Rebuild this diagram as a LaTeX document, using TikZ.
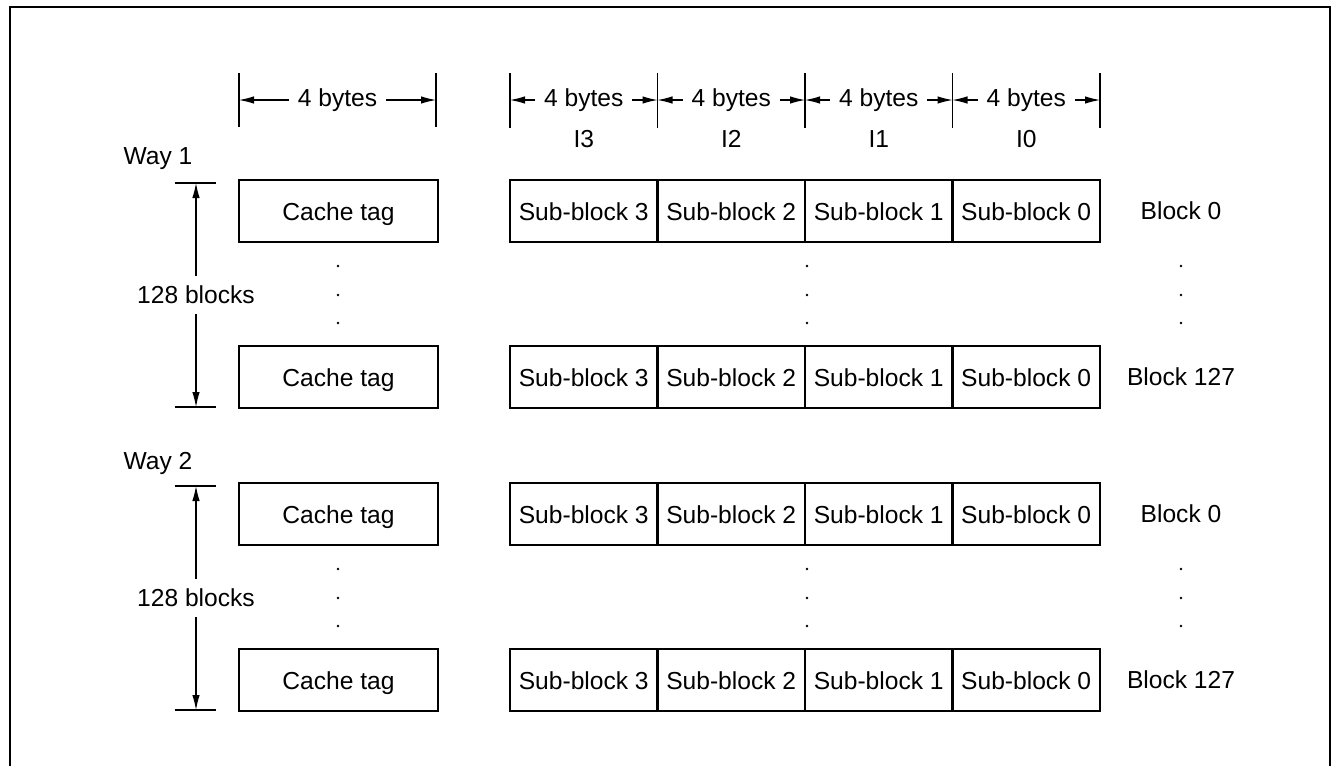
\documentclass[tikz,border=0pt]{standalone}
\usepackage{fontspec}
\setmainfont{Liberation Sans}
\usepackage{tikz}
\usetikzlibrary{arrows.meta, positioning}
\tikzstyle{tagbox} = [rectangle, minimum width=3.98cm, minimum height=1.24cm, inner sep=0pt, outer sep=0pt, text height=0.36cm, text depth=0cm, text centered, draw=black, line width=1.4pt]
\tikzstyle{subbox} = [rectangle, minimum width=2.95cm, minimum height=1.24cm, inner sep=0pt, outer sep=0pt, text height=0.36cm, text depth=0cm, text centered, draw=black, line width=1.4pt]
\tikzstyle{dimtext} = [inner xsep=0.17cm, inner ysep=0pt]
\tikzstyle{arrow} = [line width=0.6pt, -{Latex[length=3mm, width=1.5mm]}]
\tikzstyle{tick} = [line width=0.6pt]

\begin{document}
\begin{tikzpicture}[x=0.02cm, y=-0.02cm, font=\fontsize{14}{16}\selectfont]
        \useasboundingbox (0,0) rectangle (1338,765);
        \draw [line width=1.4pt] (10,775) -- (10,7) -- (1330,7) -- (1330,775);

        % byte widths
        \node (bytag) [dimtext] at (337.5,100) {4 bytes};
        \coordinate (bytagL) at (239,100);
        \coordinate (bytagR) at (436,100);
        \draw [tick] (239,73) -- (239,127);
        \draw [tick] (436,73) -- (436,127);
        \draw [arrow] (bytag.west) -- (bytagL);
        \draw [arrow] (bytag.east) -- (bytagR);

        \node (by3) [dimtext] at (583.75,100) {4 bytes};
        \node (by2) [dimtext] at (731.25,100) {4 bytes};
        \node (by1) [dimtext] at (878.75,100) {4 bytes};
        \node (by0) [dimtext] at (1026.25,100) {4 bytes};
        \coordinate (byA) at (510,100);
        \coordinate (byB) at (657.5,100);
        \coordinate (byC) at (805,100);
        \coordinate (byD) at (952.5,100);
        \coordinate (byE) at (1100,100);
        \draw [tick] (510,73) -- (510,128);
        \draw [tick] (657.5,73) -- (657.5,128);
        \draw [tick] (805,73) -- (805,128);
        \draw [tick] (952.5,73) -- (952.5,128);
        \draw [tick] (1100,73) -- (1100,128);
        \draw [arrow] (by3.west) -- (byA);
        \draw [arrow] (by3.east) -- (byB);
        \draw [arrow] (by2.west) -- (byB);
        \draw [arrow] (by2.east) -- (byC);
        \draw [arrow] (by1.west) -- (byC);
        \draw [arrow] (by1.east) -- (byD);
        \draw [arrow] (by0.west) -- (byD);
        \draw [arrow] (by0.east) -- (byE);
        \node (i3) at (583.75,139) {I3};
        \node (i2) at (731.25,139) {I2};
        \node (i1) at (878.75,139) {I1};
        \node (i0) at (1026.25,139) {I0};

        % way 1
        \node (way1) at (158,159) {Way 1};
        \node (tagA0) [tagbox] at (338.5,211) {Cache tag};
        \node (sbA03) [subbox] at (583.75,211) {Sub-block 3};
        \node (sbA02) [subbox, right=0pt of sbA03] {Sub-block 2};
        \node (sbA01) [subbox, right=0pt of sbA02] {Sub-block 1};
        \node (sbA00) [subbox, right=0pt of sbA01] {Sub-block 0};
        \node (blkA0) at (1181,211) {Block 0};
        \node (tagA1) [tagbox] at (338.5,377) {Cache tag};
        \node (sbA13) [subbox] at (583.75,377) {Sub-block 3};
        \node (sbA12) [subbox, right=0pt of sbA13] {Sub-block 2};
        \node (sbA11) [subbox, right=0pt of sbA12] {Sub-block 1};
        \node (sbA10) [subbox, right=0pt of sbA11] {Sub-block 0};
        \node (blkA1) at (1181,377) {Block 127};
        \foreach \y in {266,295,323} {
            \fill (338,\y) circle (0.8pt);
            \fill (807,\y) circle (0.8pt);
            \fill (1181,\y) circle (0.8pt);
        }
        \node (nA) [inner ysep=0.2cm] at (196,295) {128 blocks};
        \coordinate (wayA0) at (196,183);
        \coordinate (wayA1) at (196,407);
        \draw [tick] (175,183) -- (216,183);
        \draw [tick] (175,407) -- (216,407);
        \draw [arrow] (nA.north) -- (wayA0);
        \draw [arrow] (nA.south) -- (wayA1);

        % way 2
        \node (way2) at (158,463) {Way 2};
        \node (tagB0) [tagbox] at (338.5,514) {Cache tag};
        \node (sbB03) [subbox] at (583.75,514) {Sub-block 3};
        \node (sbB02) [subbox, right=0pt of sbB03] {Sub-block 2};
        \node (sbB01) [subbox, right=0pt of sbB02] {Sub-block 1};
        \node (sbB00) [subbox, right=0pt of sbB01] {Sub-block 0};
        \node (blkB0) at (1181,514) {Block 0};
        \node (tagB1) [tagbox] at (338.5,680) {Cache tag};
        \node (sbB13) [subbox] at (583.75,680) {Sub-block 3};
        \node (sbB12) [subbox, right=0pt of sbB13] {Sub-block 2};
        \node (sbB11) [subbox, right=0pt of sbB12] {Sub-block 1};
        \node (sbB10) [subbox, right=0pt of sbB11] {Sub-block 0};
        \node (blkB1) at (1181,680) {Block 127};
        \foreach \y in {569,598,626} {
            \fill (338,\y) circle (0.8pt);
            \fill (807,\y) circle (0.8pt);
            \fill (1181,\y) circle (0.8pt);
        }
        \node (nB) [inner ysep=0.2cm] at (196,598) {128 blocks};
        \coordinate (wayB0) at (196,486);
        \coordinate (wayB1) at (196,710);
        \draw [tick] (175,486) -- (216,486);
        \draw [tick] (175,710) -- (216,710);
        \draw [arrow] (nB.north) -- (wayB0);
        \draw [arrow] (nB.south) -- (wayB1);
    \end{tikzpicture}
\end{document}
